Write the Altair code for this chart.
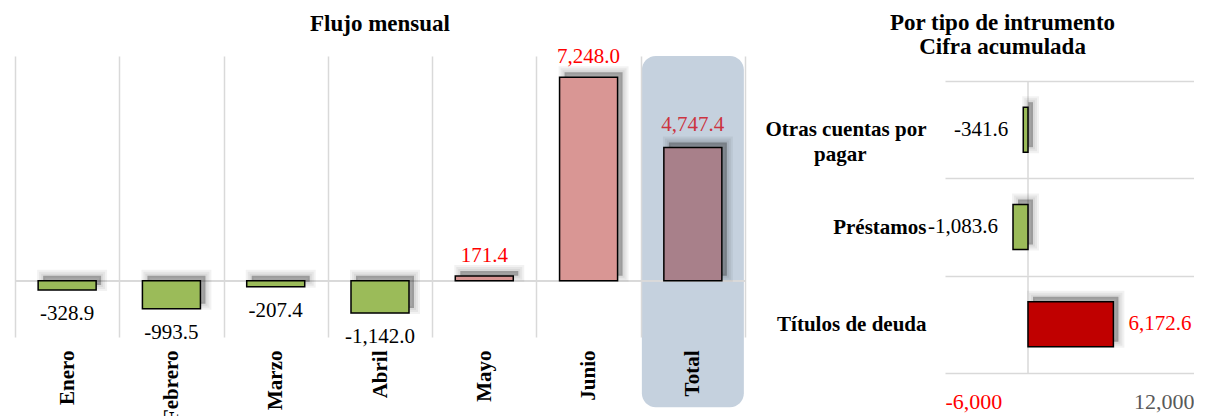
import altair as alt
import pandas as pd

# ---- data ----
months = ["Enero", "Febrero", "Marzo", "Abril", "Mayo", "Junio", "Total"]
flows = [-328.9, -993.5, -207.4, -1142.0, 171.4, 7248.0, 4747.4]
instruments = ["Otras cuentas por pagar", "Préstamos", "Títulos de deuda"]
accum = [-341.6, -1083.6, 6172.6]
x_ticks = [-6000, 0, 6000, 12000]

FONT = "Liberation Serif"
GRID = "#D9D9D9"

kinds = ["total" if m == "Total" else ("neg" if v < 0 else "pos") for m, v in zip(months, flows)]
df1 = pd.DataFrame({"mes": months, "valor": flows, "kind": kinds})
df1["lbl"] = [f"{v:,.1f}" for v in flows]

kinds2 = ["neg" if v < 0 else "pos" for v in accum]
df2 = pd.DataFrame({"inst": instruments, "valor": accum, "kind": kinds2})
df2["lbl"] = [f"{v:,.1f}" for v in accum]


def shadow_layers(base, size, **enc):
    return [base.mark_bar(size=size, fill="#000000", fillOpacity=0.10,
                          stroke="#000000", strokeWidth=sw, strokeOpacity=0.05,
                          xOffset=5, yOffset=-5).encode(**enc)
            for sw in (12, 8, 4)]


# ---- left panel: monthly flow ----
xL = alt.X("mes:N", sort=months,
           scale=alt.Scale(paddingInner=0, paddingOuter=0),
           axis=alt.Axis(title=None, labelAngle=-90, labelAlign="right",
                         labelBaseline="middle", labelFont=FONT, labelFontSize=21,
                         labelFontWeight="bold", labelColor="black", labelPadding=13,
                         domain=False, ticks=False, grid=True, gridColor=GRID,
                         gridWidth=1.5, tickBand="extent", zindex=1))
yL = alt.Y("valor:Q", scale=alt.Scale(domain=[-2000, 8000], nice=False), axis=None)

baseL = alt.Chart(df1)

bg = baseL.transform_filter("datum.mes == 'Total'").mark_bar(
    size=102, color="#C5D1DE", cornerRadius=14, clip=False
).encode(x=xL, y=alt.Y(datum=8000, type="quantitative", axis=None), y2=alt.Y2(datum=-4500))

zeroL = baseL.mark_rule(color=GRID, strokeWidth=1.5).encode(
    y=alt.Y(datum=0, type="quantitative", axis=None))

barsL = baseL.mark_bar(size=58, stroke="black", strokeWidth=1.5).encode(
    x=xL, y=yL,
    color=alt.Color("kind:N", scale=alt.Scale(domain=["neg", "pos", "total"],
                                              range=["#9BBB59", "#D99694", "#A8808A"]),
                    legend=None),
)

txt_args = dict(font=FONT, fontSize=21, baseline="middle")
negL = baseL.transform_filter("datum.valor < 0").mark_text(dy=24, color="black", **txt_args).encode(
    x=xL, y=yL, text="lbl:N")
posL = baseL.transform_filter("datum.valor >= 0 && datum.mes != 'Total'").mark_text(
    dy=-20, color="#FF0000", **txt_args).encode(x=xL, y=yL, text="lbl:N")
totL = baseL.transform_filter("datum.mes == 'Total'").mark_text(
    dy=-22, color="#CC3340", **txt_args).encode(x=xL, y=yL, text="lbl:N")

left = alt.layer(
    bg, zeroL, *shadow_layers(baseL, 58, x=xL, y=yL), barsL, negL, posL, totL
).properties(
    width=730, height=281,
    title=alt.TitleParams("Flujo mensual", font=FONT, fontSize=23, fontWeight="bold",
                          color="black", anchor="middle", offset=10),
)

# ---- right panel: by instrument ----
PAD = "\u2800" * 4
yR = alt.Y("inst:N", sort=instruments,
           scale=alt.Scale(paddingInner=0, paddingOuter=0.1285, align=1),
           axis=alt.Axis(title=None, labelFont=FONT, labelFontSize=21, labelFontWeight="bold",
                         labelColor="black", labelPadding=19, labelLimit=0,
                         labelLineHeight=25, domain=False, ticks=False, grid=True,
                         gridColor=GRID, gridWidth=1.5, tickBand="extent",
                         labelExpr="datum.value == 'Otras cuentas por pagar' ? "
                                   f"['Otras cuentas por', 'pagar{PAD}'] : datum.value"))
axR = alt.Axis(title=None, values=x_ticks, labelFont=FONT,
               labelFontSize=22, domain=False, ticks=False, grid=False,
               labelPadding=18,
               labelExpr="(datum.value < 0 ? '-' : '') + format(abs(datum.value), ',d')",
               labelColor={"condition": {"test": "datum.value < 0", "value": "#FF0000"},
                           "value": "#595959"})
scR = alt.Scale(domain=[-6000, 12000], nice=False)
xR = alt.X("valor:Q", scale=scR, axis=axR)

baseR = alt.Chart(df2)
zeroR = baseR.mark_rect(fillOpacity=0, stroke=GRID, strokeWidth=1.5).encode(
    x=alt.X(datum=0, type="quantitative", scale=scR, axis=axR),
    x2=alt.X2(datum=0),
    y=yR)
barsR = baseR.mark_bar(size=45, stroke="black", strokeWidth=1.5).encode(
    x=xR, y=yR,
    color=alt.Color("kind:N", scale=alt.Scale(domain=["neg", "pos"], range=["#9BBB59", "#C00000"]),
                    legend=None),
)
negR = baseR.transform_filter("datum.valor < 0").mark_text(
    align="right", dx=-15, color="black", **txt_args).encode(x=xR, y=yR, text="lbl:N")
posR = baseR.transform_filter("datum.valor >= 0").mark_text(
    align="left", dx=15, color="#FF0000", **txt_args).encode(x=xR, y=yR, text="lbl:N")

right = alt.layer(
    zeroR, *shadow_layers(baseR, 45, x=xR, y=yR), barsR, negR, posR
).properties(
    width=249, height=317,
    title=alt.TitleParams(["Por tipo de intrumento", "Cifra acumulada"], font=FONT, fontSize=23,
                          fontWeight="bold", color="black", anchor="middle", dx=-67,
                          lineHeight=24, offset=-14),
)

chart = alt.hconcat(left, right, spacing=19).resolve_scale(color="independent").configure_view(
    stroke=None
).properties(padding={"left": -4, "top": 4, "right": 0, "bottom": 0}, background="white")

chart.save("out.html", embed_options={"renderer": "svg", "actions": False})
